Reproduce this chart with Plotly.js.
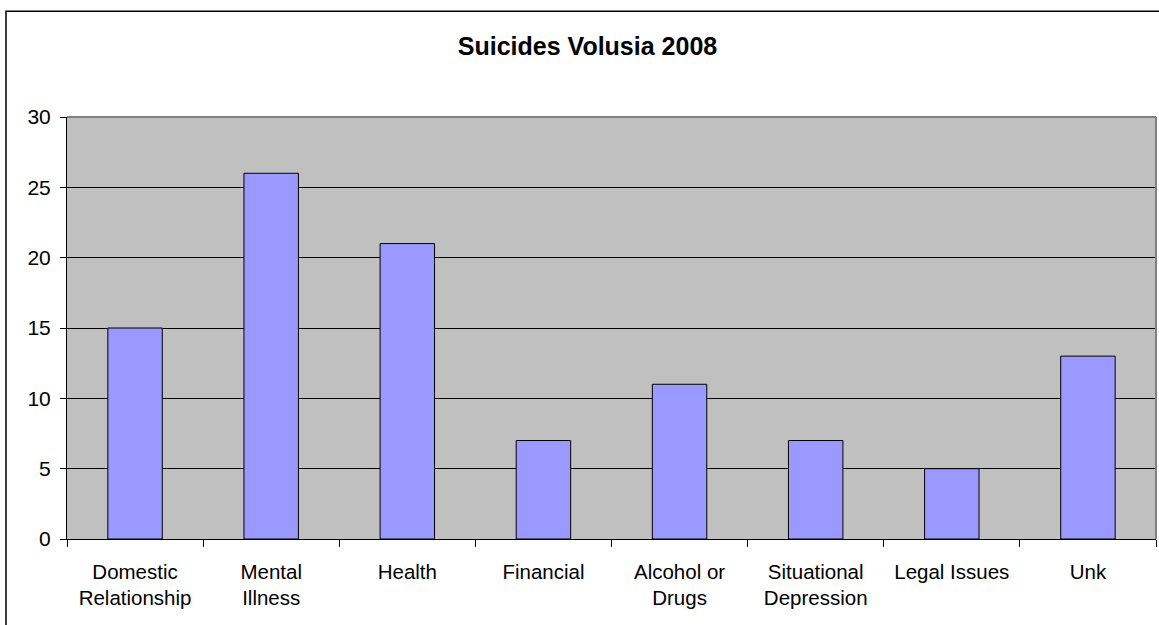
<!DOCTYPE html>
<html>
<head>
<meta charset="utf-8">
<script src="https://cdn.plot.ly/plotly-3.0.1.min.js"></script>
<style>
html,body{margin:0;padding:0;background:#fff;}
#chart{width:1159px;height:625px;}
</style>
</head>
<body>
<div id="chart"></div>
<script>
var categories = ["Domestic<br>Relationship", "Mental<br>Illness", "Health", "Financial", "Alcohol or<br>Drugs", "Situational<br>Depression", "Legal Issues", "Unk"];
var values = [15, 26, 21, 7, 11, 7, 5, 13];
var yTicks = [0, 5, 10, 15, 20, 25, 30];

var font = "Liberation Sans, Arial, sans-serif";

var data = [{
  type: "bar",
  x: categories,
  y: values,
  marker: {color: "#9999FF", line: {color: "#000000", width: 1}},
  hoverinfo: "x+y"
}];

var layout = {
  width: 1159,
  height: 625,
  margin: {l: 67, r: 3, t: 116.5, b: 86, pad: 0},
  paper_bgcolor: "#ffffff",
  plot_bgcolor: "#C0C0C0",
  bargap: 0.6,
  showlegend: false,
  font: {family: font, color: "#000000", size: 21},
  title: {
    text: "<b>Suicides Volusia 2008</b>",
    font: {family: font, size: 25, color: "#000000"},
    x: 587.5 / 1159, xref: "container", xanchor: "center",
    y: 1 - 46 / 625, yref: "container", yanchor: "middle"
  },
  xaxis: {
    type: "category",
    showgrid: false,
    showline: true, linecolor: "#000000", linewidth: 1,
    ticks: "outside", ticklen: 7, tickcolor: "#000000", tickwidth: 1,
    tickson: "boundaries",
    ticklabelstandoff: 14,
    tickfont: {family: font, size: 20.5, color: "#000000"},
    fixedrange: true
  },
  yaxis: {
    range: [0, 30],
    tickvals: yTicks,
    ticktext: yTicks.map(String),
    showgrid: true, gridcolor: "#000000", gridwidth: 1,
    zeroline: false,
    showline: true, linecolor: "#000000", linewidth: 1,
    ticks: "outside", ticklen: 6, tickcolor: "#000000", tickwidth: 1,
    ticklabelstandoff: 5,
    tickfont: {family: font, size: 21, color: "#000000"},
    fixedrange: true
  },
  shapes: [
    {type: "line", xref: "paper", yref: "paper", x0: 0, x1: 1, y0: 1, y1: 1,
     line: {color: "#808080", width: 2}, layer: "above"},
    {type: "line", xref: "paper", yref: "paper", x0: 1, x1: 1, y0: 0, y1: 1,
     line: {color: "#808080", width: 2}, layer: "above"},
    {type: "rect", xref: "paper", yref: "paper",
     x0: (6 - 67) / 1089, x1: 1.2, y0: -0.5, y1: (539 - 10) / 423,
     line: {color: "#000000", width: 1.5}, fillcolor: "rgba(0,0,0,0)", layer: "below"}
  ]
};

Plotly.newPlot("chart", data, layout, {displayModeBar: false, staticPlot: true});
</script>
</body>
</html>
